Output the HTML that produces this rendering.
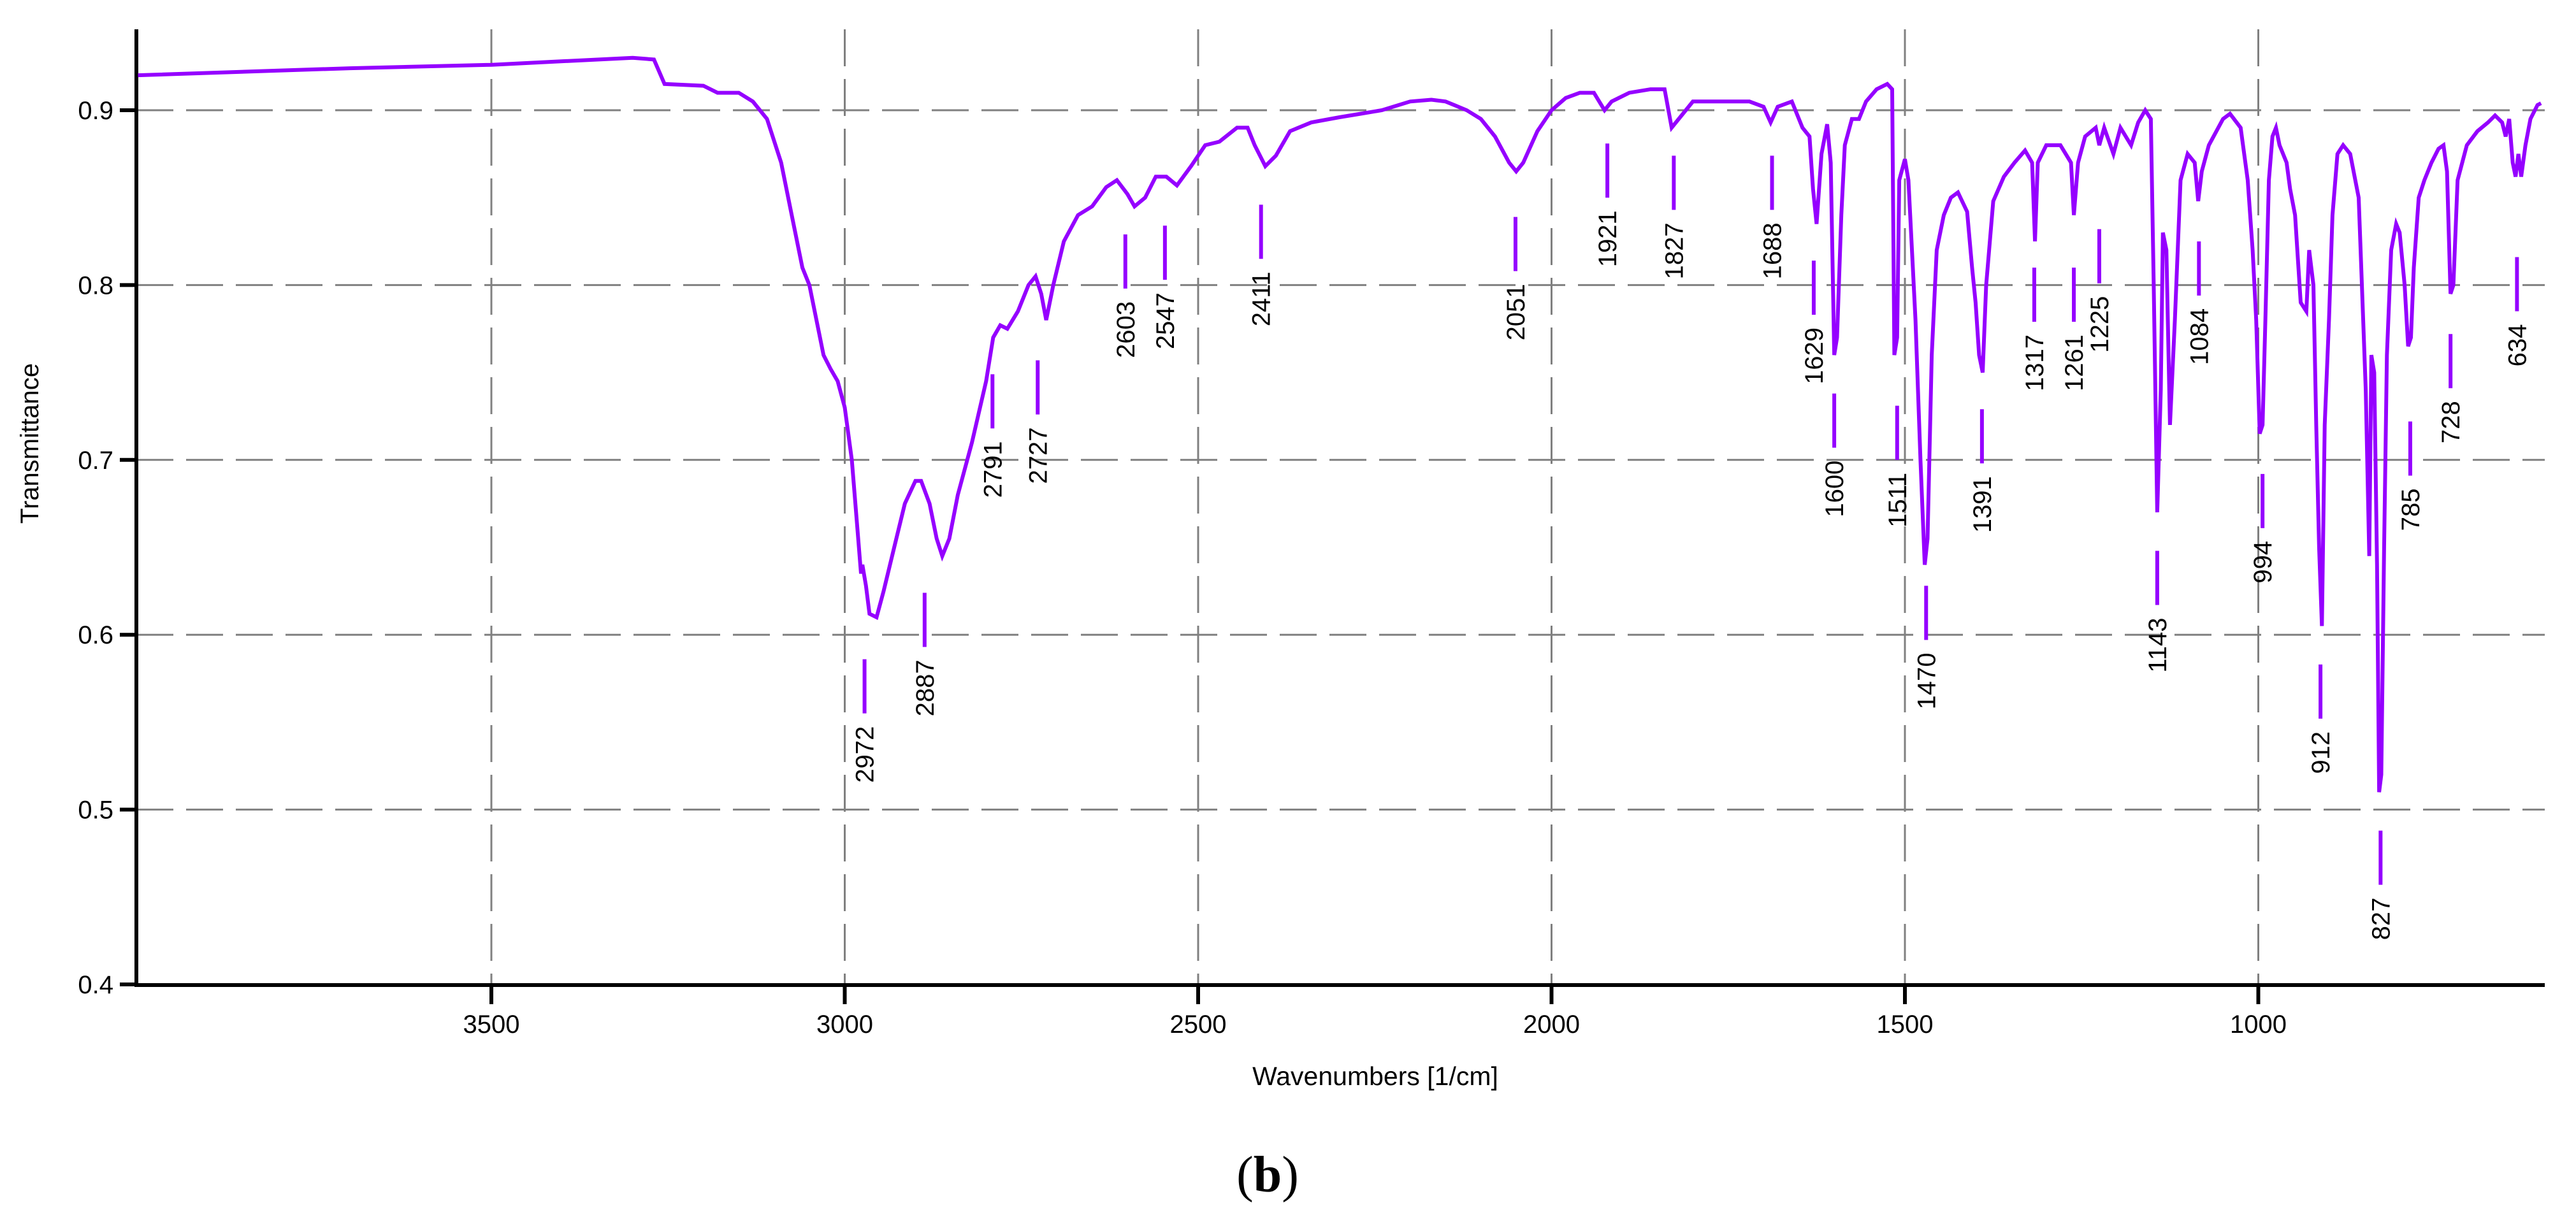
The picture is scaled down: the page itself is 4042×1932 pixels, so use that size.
<!DOCTYPE html>
<html><head><meta charset="utf-8"><style>
html,body{margin:0;padding:0;background:#fff;}
svg{display:block;}
text{font-family:"Liberation Sans",Arial,sans-serif;}
</style></head><body>
<svg id="chart" width="4042" height="1932" viewBox="0 0 4042 1932" xmlns="http://www.w3.org/2000/svg">
<g id="grid"></g>
<g id="axes"></g>
<g id="series"></g>
<g id="peaks"></g>
<text x="46" y="696" font-size="40" text-anchor="middle" transform="rotate(-90 46 696)" dy="14">Transmittance</text>
<text x="2158" y="1703" font-size="41" text-anchor="middle">Wavenumbers [1/cm]</text>
<text x="1989" y="1870" font-size="80" text-anchor="middle" style='font-family:"Liberation Serif",serif'>(<tspan font-weight="bold">b</tspan>)</text>
</svg>
<script>
const xTicks = [3500, 3000, 2500, 2000, 1500, 1000];
const yTicks = [0.4, 0.5, 0.6, 0.7, 0.8, 0.9];
const yTickLabels = ["0.4", "0.5", "0.6", "0.7", "0.8", "0.9"];
const wavenumbers = [4000,3700,3500,3300,3270,3255,3200,3180,3150,3130,3110,3090,3075,3060,3050,3040,3030,3020,3010,3000,2990,2982,2977,2975,2970,2965,2955,2945,2930,2915,2900,2892,2880,2870,2862,2852,2840,2820,2800,2790,2780,2770,2755,2740,2730,2722,2715,2705,2690,2670,2650,2630,2615,2600,2590,2575,2560,2545,2530,2510,2490,2470,2445,2430,2420,2405,2390,2370,2340,2300,2270,2240,2200,2170,2150,2120,2100,2080,2060,2050,2040,2020,2000,1980,1960,1940,1925,1915,1890,1860,1840,1830,1820,1800,1760,1720,1700,1690,1680,1660,1645,1635,1630,1625,1618,1610,1605,1600,1596,1590,1585,1575,1565,1555,1540,1525,1518,1515,1511,1508,1500,1495,1485,1478,1472,1468,1462,1455,1445,1435,1425,1412,1405,1400,1395,1390,1385,1375,1360,1345,1330,1320,1316,1312,1300,1280,1265,1261,1255,1245,1230,1225,1218,1205,1195,1180,1170,1160,1152,1148,1143,1138,1135,1130,1125,1118,1110,1100,1090,1085,1080,1070,1050,1040,1025,1015,1008,1003,998,994,990,985,980,975,970,960,955,948,940,932,928,922,918,914,910,906,900,895,888,880,870,858,848,843,840,836,832,829,826,822,818,812,805,800,793,788,784,780,773,765,755,745,738,733,728,724,718,705,690,675,665,655,650,645,640,636,632,628,622,615,605,600];
const transmittance = [0.920,0.924,0.926,0.930,0.929,0.915,0.914,0.910,0.910,0.905,0.895,0.870,0.840,0.810,0.800,0.780,0.760,0.752,0.745,0.730,0.700,0.660,0.635,0.640,0.628,0.612,0.610,0.625,0.650,0.675,0.688,0.688,0.675,0.655,0.645,0.655,0.680,0.710,0.745,0.770,0.777,0.775,0.785,0.800,0.805,0.795,0.780,0.800,0.825,0.840,0.845,0.856,0.860,0.852,0.845,0.850,0.862,0.862,0.857,0.868,0.880,0.882,0.890,0.890,0.880,0.868,0.874,0.888,0.893,0.896,0.898,0.900,0.905,0.906,0.905,0.900,0.895,0.885,0.870,0.865,0.870,0.888,0.900,0.907,0.910,0.910,0.900,0.905,0.910,0.912,0.912,0.890,0.895,0.905,0.905,0.905,0.902,0.893,0.902,0.905,0.890,0.885,0.855,0.835,0.875,0.892,0.870,0.760,0.770,0.840,0.880,0.895,0.895,0.905,0.912,0.915,0.912,0.760,0.770,0.860,0.872,0.860,0.780,0.700,0.640,0.655,0.760,0.820,0.840,0.850,0.853,0.842,0.810,0.790,0.760,0.750,0.800,0.848,0.862,0.870,0.877,0.870,0.825,0.870,0.880,0.880,0.870,0.840,0.870,0.885,0.890,0.880,0.890,0.875,0.890,0.880,0.893,0.900,0.895,0.800,0.670,0.740,0.830,0.820,0.720,0.780,0.860,0.875,0.870,0.848,0.865,0.880,0.895,0.898,0.890,0.860,0.820,0.780,0.715,0.720,0.780,0.860,0.885,0.890,0.880,0.870,0.855,0.840,0.790,0.785,0.820,0.800,0.720,0.650,0.605,0.720,0.780,0.840,0.875,0.880,0.875,0.850,0.740,0.645,0.760,0.750,0.640,0.510,0.520,0.650,0.760,0.820,0.835,0.830,0.800,0.765,0.770,0.810,0.850,0.860,0.870,0.878,0.880,0.865,0.795,0.800,0.860,0.880,0.888,0.893,0.897,0.893,0.885,0.895,0.870,0.862,0.875,0.862,0.880,0.895,0.903,0.904];
const peakPositions = [2972,2887,2791,2727,2603,2547,2411,2051,1921,1827,1688,1629,1600,1511,1470,1391,1317,1261,1225,1143,1084,994,912,827,785,728,634];
const peakLabels = ["2972","2887","2791","2727","2603","2547","2411","2051","1921","1827","1688","1629","1600","1511","1470","1391","1317","1261","1225","1143","1084","994","912","827","785","728","634"];
const peakMarkerBottoms = [0.555,0.593,0.718,0.726,0.798,0.803,0.815,0.808,0.850,0.843,0.843,0.783,0.707,0.700,0.597,0.698,0.779,0.779,0.801,0.617,0.794,0.661,0.552,0.457,0.691,0.741,0.785];

const NS = "http://www.w3.org/2000/svg";
const PL = 214, PR = 3993, PT = 46, PB = 1546;
function xScale(w){ return 771 + (3500 - w) * 1.109; }
function yScale(t){ return 173 + (0.9 - t) * 2744; }
function mk(tag, attrs, parent){
  const el = document.createElementNS(NS, tag);
  for (const k in attrs) el.setAttribute(k, attrs[k]);
  parent.appendChild(el);
  return el;
}
const grid = document.getElementById('grid');
const axes = document.getElementById('axes');
const series = document.getElementById('series');
const peaks = document.getElementById('peaks');

xTicks.forEach(function(w){
  const x = xScale(w);
  const g = mk('line', {x1:x, x2:x, y1:PT, y2:PB, stroke:'#808080', 'stroke-width':3, 'stroke-dasharray':'58,20'}, grid);
  
  
  const t = mk('line', {x1:x, x2:x, y1:PB, y2:PB+30, stroke:'#000', 'stroke-width':6}, axes);
  
  
  const l = mk('text', {x:x, y:PB+75, 'font-size':40, 'text-anchor':'middle'}, axes);
  l.textContent = String(w);
  
  
});
yTicks.forEach(function(v, i){
  const y = yScale(v);
  if (i > 0) {
    const g = mk('line', {x1:PL, x2:PR, y1:y, y2:y, stroke:'#808080', 'stroke-width':3, 'stroke-dasharray':'58,20'}, grid);
    
    
  }
  const t = mk('line', {x1:PL-26, x2:PL, y1:y, y2:y, stroke:'#000', 'stroke-width':6}, axes);
  
  
  const l = mk('text', {x:PL-36, y:y+14, 'font-size':40, 'text-anchor':'end'}, axes);
  l.textContent = yTickLabels[i];
  
  
});
const ax = mk('path', {d:'M'+PL+' '+PT+' V'+PB+' H'+PR, fill:'none', stroke:'#000', 'stroke-width':6}, axes);



let d = '';
wavenumbers.forEach(function(w, i){
  d += (i ? 'L' : 'M') + xScale(w).toFixed(1) + ' ' + yScale(transmittance[i]).toFixed(1) + ' ';
});
const line = mk('path', {d:d, fill:'none', stroke:'#9500ff', 'stroke-width':6, 'stroke-linejoin':'miter'}, series);



peakPositions.forEach(function(w, i){
  const x = xScale(w);
  const yb = yScale(peakMarkerBottoms[i]);
  const m = mk('line', {x1:x, x2:x, y1:yb-85, y2:yb, stroke:'#9500ff', 'stroke-width':6}, peaks);
  
  
  const ty = yb + 20;
  const t = mk('text', {x:x+14, y:ty, 'font-size':40, 'text-anchor':'end', transform:'rotate(-90 '+(x+14)+' '+ty+')'}, peaks);
  t.textContent = peakLabels[i];
  
  
});
</script>
</body></html>
